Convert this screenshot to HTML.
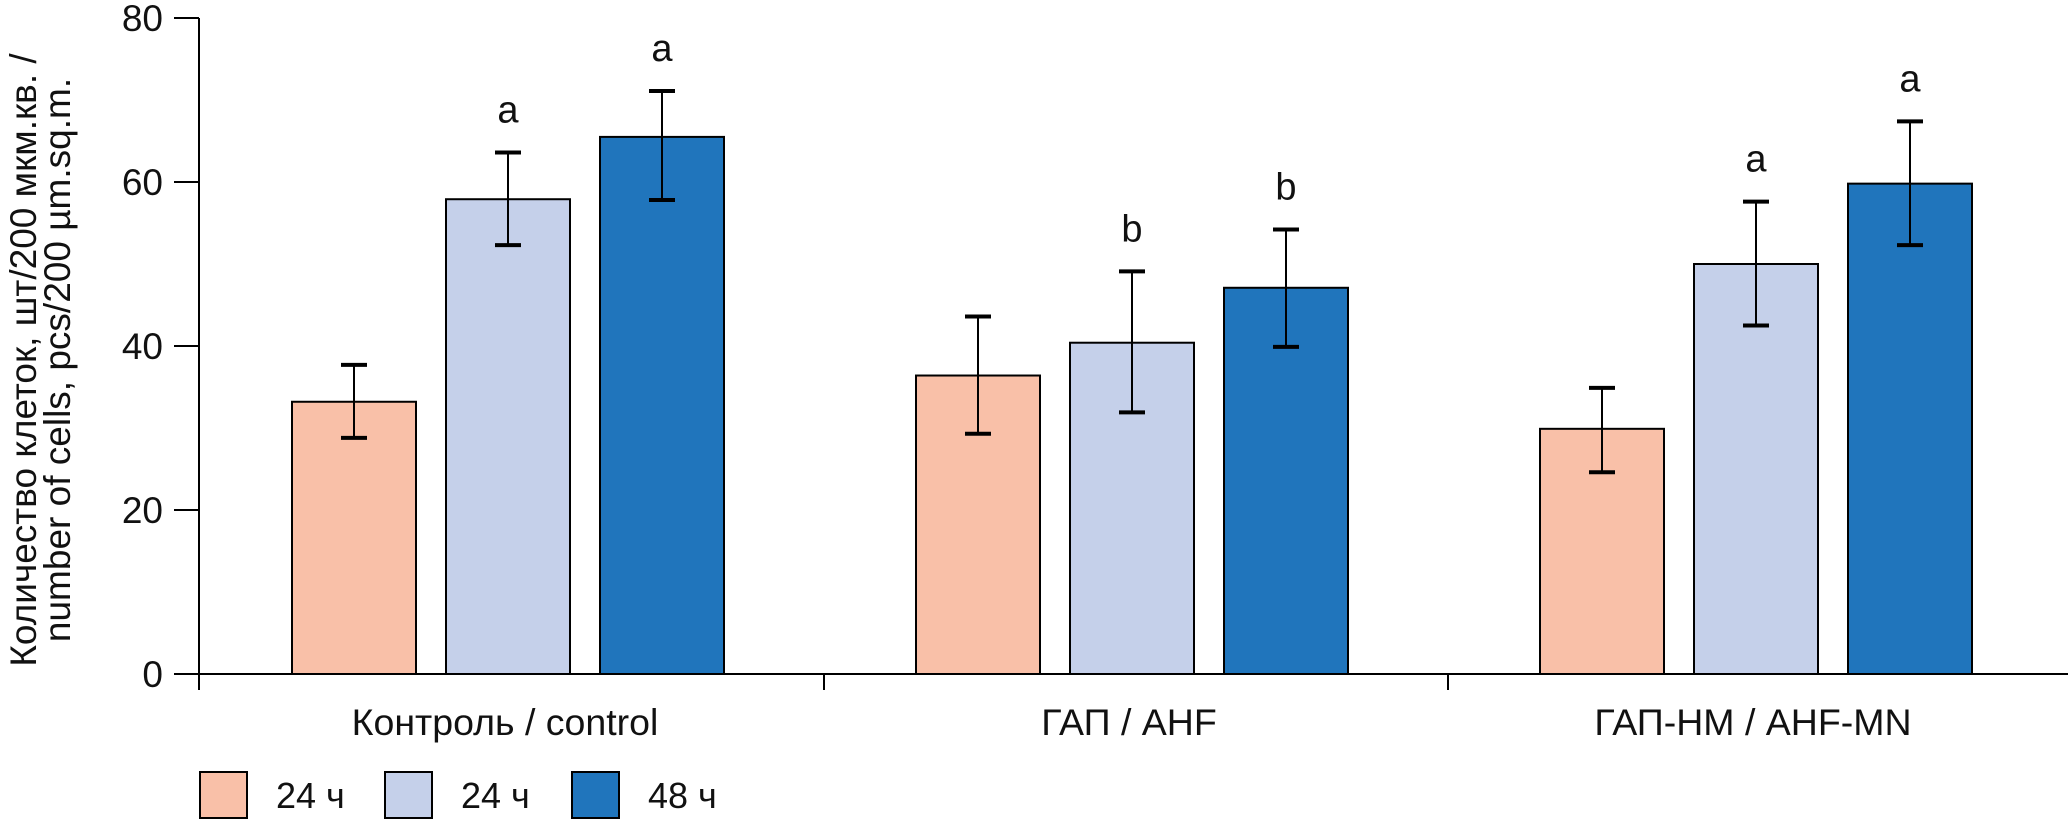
<!DOCTYPE html>
<html><head><meta charset="utf-8"><style>
html,body{margin:0;padding:0;background:#fff}
svg{display:block;font-family:"Liberation Sans","Noto Sans CJK SC",sans-serif}
</style></head><body>
<svg id="chart" width="2068" height="822" viewBox="0 0 2068 822">
<g id="axes"></g><g id="bars"></g><g id="legend"></g>
<text transform="translate(36,360) rotate(-90)" text-anchor="middle" font-size="37" fill="#111">Количество клеток, шт/200 мкм.кв. /</text>
<text transform="translate(70,360) rotate(-90)" text-anchor="middle" font-size="37" fill="#111">number of cells, pcs/200 µm.sq.m.</text>
</svg>
<script>
const categories = ["Контроль / control", "ГАП / AHF", "ГАП-НМ / AHF-MN"];
const seriesNames = ["24 ч", "24 ч", "48 ч"];
const seriesA = [33.2, 36.4, 29.9];
const seriesB = [57.9, 40.4, 50.0];
const seriesC = [65.5, 47.1, 59.8];
const errHighA = [37.7, 43.6, 34.9];
const errLowA = [28.8, 29.3, 24.6];
const errHighB = [63.6, 49.1, 57.6];
const errLowB = [52.3, 31.9, 42.5];
const errHighC = [71.1, 54.2, 67.4];
const errLowC = [57.8, 39.9, 52.3];
const lettersB = ["a", "b", "a"];
const lettersC = ["a", "b", "a"];
const yTicks = [0, 20, 40, 60, 80];

const NS = "http://www.w3.org/2000/svg";
const colors = ["#f9c0a8", "#c5d0ea", "#2075bc"];
const y0 = 674, yTop = 18, yMax = 80;
const y = v => y0 - (v / yMax) * (y0 - yTop);
const axisX = 199, groupW = 624, firstGroup = 200;
const barW = 124, step = 154;
const groupCenter = i => firstGroup + groupW * i + 308;
const barX = (g, s) => groupCenter(g) + (s - 1) * step - barW / 2;
function mk(tag, attrs, parent) {
  const e = document.createElementNS(NS, tag);
  for (const k in attrs) e.setAttribute(k, attrs[k]);
  parent.appendChild(e); return e;
}
const axes = document.getElementById("axes");
const bars = document.getElementById("bars");
const legend = document.getElementById("legend");
let l = mk("line", {x1: axisX, y1: yTop, x2: axisX, y2: 690, stroke: "#000", "stroke-width": 2}, axes);


l = mk("line", {x1: 174, y1: y0, x2: 2068, y2: y0, stroke: "#000", "stroke-width": 2}, axes);


yTicks.forEach(t => {
  const tk = mk("line", {x1: 174, y1: y(t), x2: axisX, y2: y(t), stroke: "#000", "stroke-width": 2}, axes);
  
  
  const tx = mk("text", {x: 163, y: y(t) + 13, "text-anchor": "end", "font-size": 37, fill: "#111"}, axes);
  tx.textContent = t;
  
  
});
categories.forEach((c, i) => {
  const tk = mk("line", {x1: firstGroup + groupW * (i + 1), y1: y0, x2: firstGroup + groupW * (i + 1), y2: 690, stroke: "#000", "stroke-width": 2}, axes);
  
  
  const tx = mk("text", {x: groupCenter(i) - 3, y: 735, "text-anchor": "middle", "font-size": 37.5, fill: "#111"}, axes);
  tx.textContent = c;
  
  
});
const series = [seriesA, seriesB, seriesC];
const hi = [errHighA, errHighB, errHighC];
const lo = [errLowA, errLowB, errLowC];
const letters = [null, lettersB, lettersC];
categories.forEach((c, g) => {
  series.forEach((s, si) => {
    const x = barX(g, si);
    const r = mk("rect", {x: x, y: y(s[g]), width: barW, height: y0 - y(s[g]), fill: colors[si], stroke: "#000", "stroke-width": 2}, bars);
    
    
    const cx = x + barW / 2;
    const e = mk("path", {d: `M${cx} ${y(hi[si][g])}V${y(lo[si][g])}`, stroke: "#000", fill: "none", "stroke-width": 2}, bars);
    
    
    const cap = mk("path", {d: `M${cx - 13} ${y(hi[si][g])}H${cx + 13}M${cx - 13} ${y(lo[si][g])}H${cx + 13}`, stroke: "#000", "stroke-width": 4}, bars);
    
    
    if (letters[si]) {
      const t = mk("text", {x: cx, y: y(hi[si][g]) - 30, "text-anchor": "middle", "font-size": 38, fill: "#111"}, bars);
      t.textContent = letters[si][g];
      
      
    }
  });
});
const legX = [200, 385, 572];
seriesNames.forEach((n, i) => {
  const r = mk("rect", {x: legX[i], y: 772, width: 47, height: 46, fill: colors[i], stroke: "#000", "stroke-width": 2}, legend);
  
  
  const t = mk("text", {x: legX[i] + 76, y: 808, "font-size": 36, fill: "#111"}, legend);
  t.textContent = n;
  
  
});
</script>
</body></html>
